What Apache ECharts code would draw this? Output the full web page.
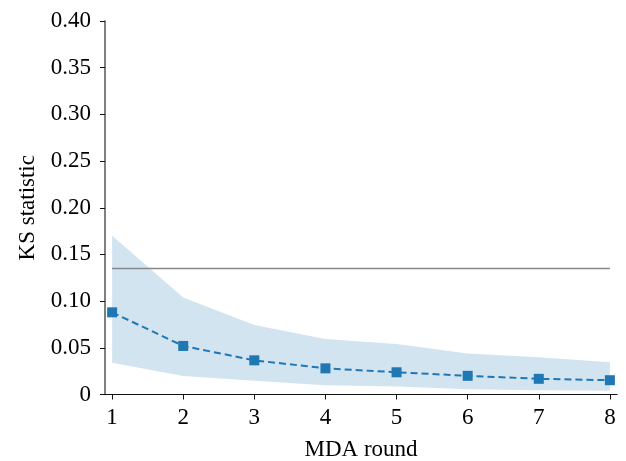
<!DOCTYPE html>
<html>
<head>
<meta charset="utf-8">
<script src="https://cdn.jsdelivr.net/npm/echarts@6/dist/echarts.min.js"></script>
<style>html,body{margin:0;padding:0;background:#fff}#c{width:626px;height:461px}</style>
</head>
<body>
<div id="c"></div>
<script>
var rounds = [1, 2, 3, 4, 5, 6, 7, 8];
var meanKS = [0.088, 0.052, 0.0366, 0.028, 0.0238, 0.020, 0.0168, 0.0153];
var upperKS = [0.170, 0.104, 0.0744, 0.0594, 0.054, 0.044, 0.040, 0.0345];
var lowerKS = [0.034, 0.0198, 0.0148, 0.010, 0.0085, 0.0055, 0.0045, 0.004];
var thresholdKS = 0.135;

var FONT = '"Liberation Serif", "DejaVu Serif", serif';
var FS = 23;
var chart = echarts.init(document.getElementById('c'), null, {renderer: 'canvas'});
var bandData = rounds.map(function (r, i) { return [r, lowerKS[i], upperKS[i]]; });
var meanData = rounds.map(function (r, i) { return [r, meanKS[i]]; });

function renderBand(params, api) {
  if (params.dataIndex !== 0) return;
  var top = [], bottom = [];
  for (var i = 0; i < bandData.length; i++) {
    top.push(api.coord([bandData[i][0], bandData[i][2]]));
    bottom.push(api.coord([bandData[i][0], bandData[i][1]]));
  }
  var pts = top.concat(bottom.reverse());
  return {
    type: 'polygon',
    shape: {points: pts},
    style: {fill: 'rgba(31,119,180,0.2)', stroke: 'none'},
    silent: true
  };
}

chart.setOption({
  animation: false,
  backgroundColor: '#fff',
  grid: {left: 105, right: 9, top: 21, bottom: 66.5, containLabel: false, outerBoundsMode: 'none'},
  xAxis: {
    type: 'value', min: 0.9, max: 8.1,
    name: 'MDA round', nameLocation: 'middle', nameGap: 44,
    nameTextStyle: {fontFamily: FONT, fontSize: FS, color: '#000'},
    axisLine: {show: true, onZero: false, lineStyle: {color: '#111', width: 1.2}},
    axisTick: {show: true, length: 5, lineStyle: {color: '#111'}, customValues: rounds},
    axisLabel: {fontFamily: FONT, fontSize: FS, color: '#000', margin: 12, customValues: rounds},
    splitLine: {show: false}
  },
  yAxis: {
    type: 'value', min: 0, max: 0.4, interval: 0.05,
    name: 'KS statistic', nameLocation: 'middle', nameGap: 66, nameRotate: 90,
    nameTextStyle: {fontFamily: FONT, fontSize: FS, color: '#000'},
    axisLine: {show: true, lineStyle: {color: '#555', width: 1.5}},
    axisTick: {show: true, length: 5, lineStyle: {color: '#111'}},
    axisLabel: {fontFamily: FONT, fontSize: FS, color: '#000', margin: 14,
      formatter: function (v) { return v === 0 ? '0' : v.toFixed(2); }},
    splitLine: {show: false}
  },
  series: [
    {type: 'custom', data: bandData, renderItem: renderBand, silent: true, z: 1},
    {type: 'line', data: [[rounds[0], thresholdKS], [rounds[rounds.length - 1], thresholdKS]],
     symbol: 'none', lineStyle: {color: '#888', width: 1.5}, silent: true, z: 2},
    {type: 'line', data: meanData, symbol: 'rect', symbolSize: 10, z: 3,
     itemStyle: {color: '#1f77b4'},
     lineStyle: {color: '#1f77b4', width: 2, type: [7, 4]}}
  ]
});
</script>
</body>
</html>
